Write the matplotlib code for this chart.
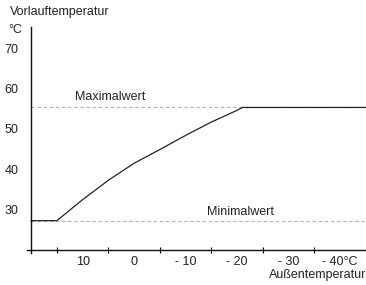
import numpy as np
import matplotlib.pyplot as plt

plt.rcParams['font.family'] = ['Liberation Sans', 'DejaVu Sans']

# heating curve
t_out  = [20, 15, 10, 5, 0, -5, -10, -15, -20, -21, -45]
t_flow = [27.3, 27.3, 32.5, 37.3, 41.5, 44.9, 48.4, 51.7, 54.6, 55.3, 55.3]
t_max  = 55.3
t_min  = 27.3
x_ticks  = [15, 5, -5, -15, -25, -35]
x_labels = [10, 0, -10, -20, -30, -40]
x_texts  = ["10", "0", "- 10", "- 20", "- 30", "- 40°C"]
y_labels = [30, 40, 50, 60, 70]

fs = 9
txt = "#222222"
fig = plt.figure(figsize=(3.66, 2.85), dpi=100)
ax = fig.add_axes([27/366, 1 - 253/285, 339/366, 226/285])

x0, x1 = 20.8, -45
ax.plot(t_out, t_flow, color="#222222", lw=0.9)
# dashed limits start at the y axis
start = (x0 - 20) / (x0 - x1)
ax.axhline(t_max, xmin=start, color="#b0b0b0", lw=0.8, ls=(0, (3, 2.5)), zorder=0)
ax.axhline(t_min, xmin=start, color="#b0b0b0", lw=0.8, ls=(0, (3, 2.5)), zorder=0)
ax.text(4.7, 58.0, "Maximalwert", ha="center", va="center", fontsize=fs, color=txt)
ax.text(-20.6, 29.5, "Minimalwert", ha="center", va="center", fontsize=fs, color=txt)

ax.set_xlim(x0, x1)
ax.set_ylim(19.3, 75.2)
ax.spines["left"].set_position(("data", 20))
ax.spines["bottom"].set_position(("data", 20))
for s in ["top", "right"]:
    ax.spines[s].set_visible(False)
for s in ["left", "bottom"]:
    ax.spines[s].set_linewidth(1.0)
    ax.spines[s].set_color("#111111")

ax.set_xticks(x_ticks)
ax.set_xticklabels([])
ax.tick_params(axis="x", which="major", direction="inout", length=5, width=0.8)
ax.set_xticks(x_labels, minor=True)
ax.set_xticklabels(x_texts, minor=True)
ax.tick_params(axis="x", which="minor", length=0, pad=4.5, labelsize=fs, labelcolor=txt)

ax.set_yticks(y_labels)
ax.tick_params(axis="y", length=0, pad=9, labelsize=fs, labelcolor=txt)

fig.text(10/366, 1 - 12/285, "Vorlauftemperatur", ha="left", va="center", fontsize=fs, color=txt)
fig.text(8/366, 1 - 30/285, "°C", ha="left", va="center", fontsize=fs, color=txt)
fig.text(366/366, 1 - 275/285, "Außentemperatur", ha="right", va="center", fontsize=fs, color=txt)

fig.savefig("out.png", dpi=100)
